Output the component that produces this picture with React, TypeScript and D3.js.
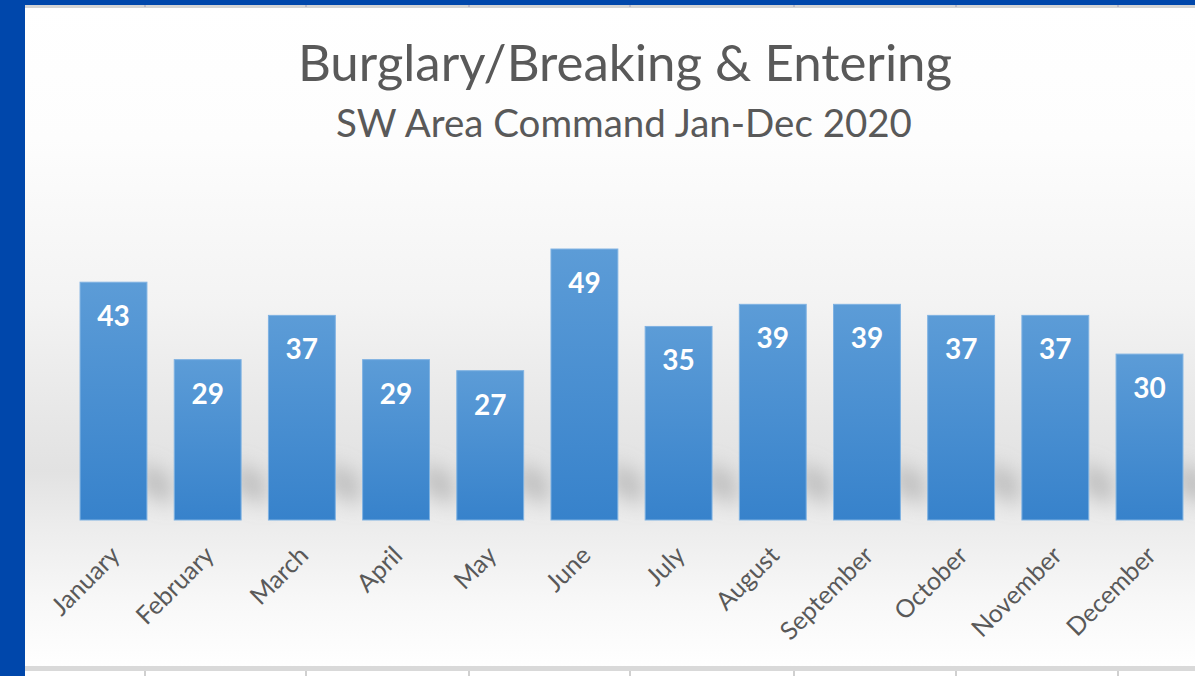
import React from "react";
import * as d3 from "d3";

const months = ["January","February","March","April","May","June","July","August","September","October","November","December"];
const counts = [43, 29, 37, 29, 27, 49, 35, 39, 39, 37, 37, 30];
const titleText = "Burglary/Breaking & Entering";
const subtitleText = "SW Area Command Jan-Dec 2020";
const gridDividers = [145, 306, 469, 630, 794, 956, 1118];

const W = 1195, H = 676;
const FONT = "Lato, 'Open Sans', sans-serif";

export default function App() {
  const x = d3.scaleBand<string>().domain(months).range([66.4, 1196.6]).paddingInner(0.29).paddingOuter(0.145);
  const y = d3.scaleLinear().domain([0, 50]).range([520, 243.5]);
  const bw = x.bandwidth();

  return (
    <svg width={W} height={H} style={{ position: "fixed", left: 0, top: 0 }}>
      <defs>
        <linearGradient id="bg" x1="0" y1="0" x2="0" y2="1">
          <stop offset="0" stopColor="#ffffff" />
          <stop offset="0.2" stopColor="#fdfdfd" />
          <stop offset="0.45" stopColor="#f3f3f3" />
          <stop offset="0.62" stopColor="#e7e7e7" />
          <stop offset="0.7" stopColor="#e2e2e2" />
          <stop offset="0.78" stopColor="#ececec" />
          <stop offset="0.9" stopColor="#f8f8f8" />
          <stop offset="1" stopColor="#ffffff" />
        </linearGradient>
        <linearGradient id="bar" x1="0" y1="0" x2="0" y2="1">
          <stop offset="0" stopColor="#5c9cd7" />
          <stop offset="1" stopColor="#3782cb" />
        </linearGradient>
        <filter id="blur" x="-30%" y="-100%" width="160%" height="300%">
          <feGaussianBlur stdDeviation="10" />
        </filter>
      </defs>
      <rect x={0} y={0} width={W} height={H} fill="#0047ab" />
      <rect x={25} y={5} width={W - 25} height={666} fill="url(#bg)" />
      <rect x={25} y={5} width={W - 25} height={3} fill="#d4d4d4" />
      {gridDividers.map((gx) => (
        <rect key={"t" + gx} x={gx - 1} y={5} width={2} height={2} fill="#b8b8c8" />
      ))}
      <g filter="url(#blur)">
        {months.map((m) => (
          <polygon
            key={"s" + m}
            points={`${x(m)! + bw - 4},462 ${x(m)! + bw + 24},480 ${x(m)! + bw + 24},506 ${x(m)! + bw - 4},490`}
            fill="#a8a8a8"
            opacity={0.7}
          />
        ))}
      </g>
      <rect x={25} y={666} width={W - 25} height={5} fill="#d9d9d9" />
      <rect x={25} y={671} width={W - 25} height={5} fill="#ffffff" />
      {gridDividers.map((gx) => (
        <rect key={"b" + gx} x={gx - 1} y={671} width={2} height={5} fill="#d0d0d0" />
      ))}

      <text x={625} y={81} textAnchor="middle" fontFamily={FONT} fontSize={51} fill="#595959">{titleText}</text>
      <text x={624} y={137} textAnchor="middle" fontFamily={FONT} fontSize={38.5} fill="#595959">{subtitleText}</text>

      {months.map((m, i) => (
        <g key={m}>
          <rect
            x={x(m)}
            y={y(counts[i])}
            width={bw}
            height={y(0) - y(counts[i])}
            fill="url(#bar)"
            stroke="#7fb2e2"
            strokeWidth={1}
          />
          <text
            x={x(m)! + bw / 2}
            y={y(counts[i]) + 44}
            textAnchor="middle"
            fontFamily={FONT}
            fontWeight="bold"
            fontSize={28}
            fill="#ffffff"
          >
            {counts[i]}
          </text>
          <text
            transform={`translate(${x(m)! + bw / 2 + 8},${557}) rotate(-45)`}
            textAnchor="end"
            fontFamily={FONT}
            fontSize={25}
            fill="#595959"
          >
            {m}
          </text>
        </g>
      ))}
    </svg>
  );
}
